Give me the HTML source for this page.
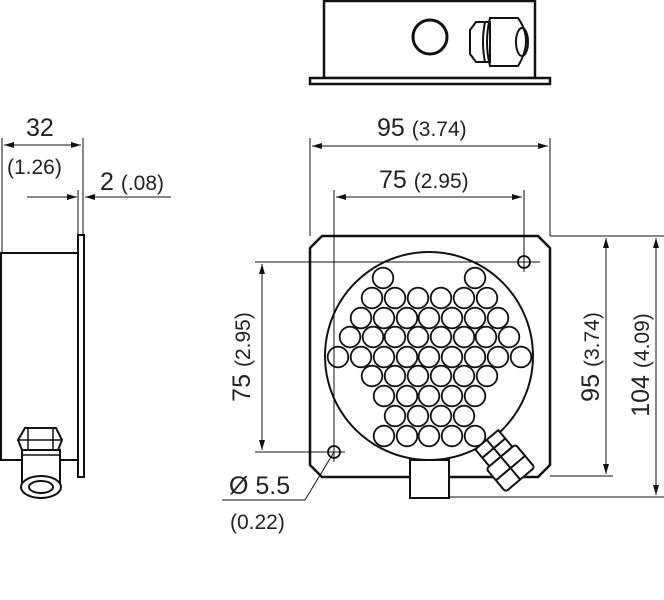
<!DOCTYPE html>
<html><head><style>html,body{margin:0;padding:0;background:#fff}svg{display:block}text{font-family:"Liberation Sans",sans-serif;fill:#222}</style></head><body>
<svg width="664" height="600" viewBox="0 0 664 600" xmlns="http://www.w3.org/2000/svg">
<defs><marker id="a" viewBox="0 0 10 6" refX="10" refY="3" markerWidth="12" markerHeight="6" orient="auto-start-reverse" markerUnits="userSpaceOnUse"><path d="M0,0L10,3L0,6z" fill="#111"/></marker></defs>
<g stroke="#111" fill="none">
<!-- top view -->
<rect x="324" y="1" width="211" height="77" stroke-width="2.5"/>
<rect x="310" y="78" width="240" height="6" stroke-width="2.5" fill="#fff"/>
<circle cx="430" cy="37" r="17" stroke-width="3"/>
<path d="M476,22 L470,30 L470,54 L476,62 L490,62 L490,22 Z" stroke-width="2"/>
<path d="M485,22 Q481,42 485,62" stroke-width="2"/>
<path d="M490,18 L518,18 Q534,40 518,66 L490,66 Q484,42 490,18 Z" stroke-width="2"/>
<ellipse cx="522" cy="42" rx="6" ry="14" stroke-width="2"/>
<!-- side view -->
<rect x="1" y="253" width="77" height="207" stroke-width="2"/>
<rect x="78" y="235" width="6" height="242" stroke-width="2" fill="#fff"/>
<g stroke-width="2" fill="#fff">
<path d="M22,450 L18,440 L25,428 L56,428 L62,440 L58,450 Z"/>
<rect x="22" y="450" width="38" height="40"/>
<ellipse cx="41" cy="487" rx="20" ry="11"/>
<ellipse cx="41" cy="487" rx="12" ry="6"/>
</g>
<path d="M18,440 L62,440 M28,428 L28,450 M53,428 L53,450 M22,455 L60,455" stroke-width="1.5"/>
<!-- front view -->
<path d="M322,236 L538,236 L550,248 L550,465 L538,477 L322,477 L310,465 L310,248 Z" stroke-width="2.5"/>
<circle cx="429" cy="356" r="104" stroke-width="2"/>
<rect x="410" y="460" width="39" height="38" stroke-width="2" fill="#fff"/>
<g transform="translate(497,452) rotate(-40)" stroke-width="2" fill="#fff">
<rect x="-15" y="-16" width="30" height="22"/>
<rect x="-19" y="6" width="38" height="30" rx="3"/>
<path d="M0,-16 L0,6 M0,6 L0,36 M-15,-5 L15,-5 M-19,21 L19,21"/>
</g>
<circle cx="524" cy="262" r="6" stroke-width="1.8"/>
<circle cx="334" cy="452" r="6" stroke-width="1.8"/>
<g stroke-width="1.8">
<circle cx="383" cy="278" r="10.3"/><circle cx="475" cy="278" r="10.3"/>
<circle cx="372" cy="298" r="10.3"/><circle cx="395" cy="298" r="10.3"/><circle cx="418" cy="298" r="10.3"/><circle cx="441" cy="298" r="10.3"/><circle cx="464" cy="298" r="10.3"/><circle cx="487" cy="298" r="10.3"/>
<circle cx="361" cy="318" r="10.3"/><circle cx="384" cy="318" r="10.3"/><circle cx="407" cy="318" r="10.3"/><circle cx="429" cy="318" r="10.3"/><circle cx="452" cy="318" r="10.3"/><circle cx="475" cy="318" r="10.3"/><circle cx="498" cy="318" r="10.3"/>
<circle cx="350" cy="337" r="10.3"/><circle cx="373" cy="337" r="10.3"/><circle cx="395" cy="337" r="10.3"/><circle cx="418" cy="337" r="10.3"/><circle cx="441" cy="337" r="10.3"/><circle cx="464" cy="337" r="10.3"/><circle cx="486" cy="337" r="10.3"/><circle cx="509" cy="337" r="10.3"/>
<circle cx="338" cy="357" r="10.3"/><circle cx="361" cy="357" r="10.3"/><circle cx="384" cy="357" r="10.3"/><circle cx="407" cy="357" r="10.3"/><circle cx="429" cy="357" r="10.3"/><circle cx="452" cy="357" r="10.3"/><circle cx="475" cy="357" r="10.3"/><circle cx="498" cy="357" r="10.3"/><circle cx="521" cy="357" r="10.3"/>
<circle cx="372" cy="376" r="10.3"/><circle cx="395" cy="376" r="10.3"/><circle cx="418" cy="376" r="10.3"/><circle cx="441" cy="376" r="10.3"/><circle cx="464" cy="376" r="10.3"/><circle cx="487" cy="376" r="10.3"/>
<circle cx="384" cy="396" r="10.3"/><circle cx="407" cy="396" r="10.3"/><circle cx="429" cy="396" r="10.3"/><circle cx="452" cy="396" r="10.3"/><circle cx="475" cy="396" r="10.3"/>
<circle cx="395" cy="416" r="10.3"/><circle cx="418" cy="416" r="10.3"/><circle cx="441" cy="416" r="10.3"/><circle cx="464" cy="416" r="10.3"/>
<circle cx="384" cy="436" r="10.3"/><circle cx="407" cy="436" r="10.3"/><circle cx="429" cy="436" r="10.3"/><circle cx="452" cy="436" r="10.3"/><circle cx="475" cy="436" r="10.3"/>
</g>
<!-- thin dimension lines -->
<g stroke-width="1">
<path d="M2,138 V253 M83,138 V235 M78,190 V235"/>
<path d="M310,138 V236 M550,138 V236 M334,190 V462 M524,190 V272"/>
<path d="M255,262 H540 M255,452 H345"/>
<path d="M550,236 H664 M550,476 H613 M449,497 H664"/>
<path d="M334,452 L305,500 H222"/>
<line x1="4" y1="145" x2="81" y2="145" marker-start="url(#a)" marker-end="url(#a)"/>
<line x1="27" y1="197" x2="77" y2="197" marker-end="url(#a)"/>
<line x1="171" y1="197" x2="85" y2="197" marker-end="url(#a)"/>
<line x1="312" y1="146" x2="548" y2="146" marker-start="url(#a)" marker-end="url(#a)"/>
<line x1="336" y1="197" x2="522" y2="197" marker-start="url(#a)" marker-end="url(#a)"/>
<line x1="262" y1="264" x2="262" y2="450" marker-start="url(#a)" marker-end="url(#a)"/>
<line x1="606" y1="238" x2="606" y2="474" marker-start="url(#a)" marker-end="url(#a)"/>
<line x1="656" y1="238" x2="656" y2="495" marker-start="url(#a)" marker-end="url(#a)"/>
</g>
</g>
<g font-size="25">
<text x="26" y="136">32</text>
<text x="7" y="174" font-size="21">(1.26)</text>
<text x="100" y="190">2 <tspan font-size="21">(.08)</tspan></text>
<text x="377" y="136">95 <tspan font-size="21">(3.74)</tspan></text>
<text x="379" y="188">75 <tspan font-size="21">(2.95)</tspan></text>
<text transform="translate(250,357) rotate(-90)" text-anchor="middle">75 <tspan font-size="21">(2.95)</tspan></text>
<text transform="translate(599,357) rotate(-90)" text-anchor="middle">95 <tspan font-size="21">(3.74)</tspan></text>
<text transform="translate(649,365) rotate(-90)" text-anchor="middle">104 <tspan font-size="21">(4.09)</tspan></text>
<text x="229" y="494">Ø 5.5</text>
<text x="230" y="529" font-size="21">(0.22)</text>
</g>
</svg>
</body></html>
